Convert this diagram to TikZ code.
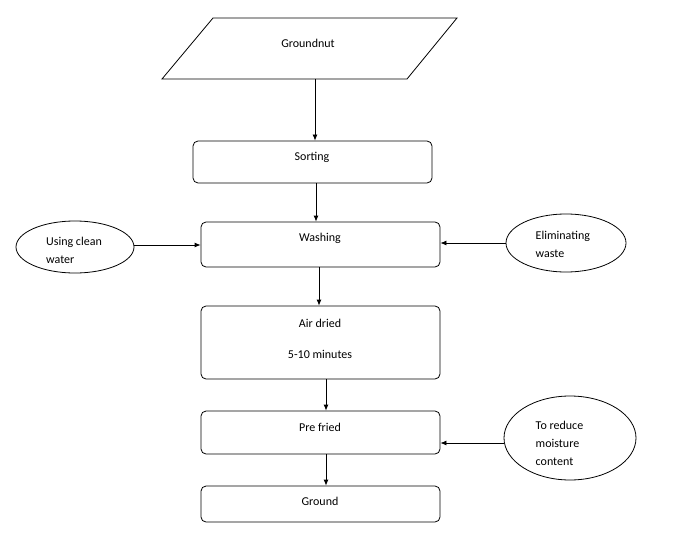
\documentclass[tikz,border=0pt]{standalone}
\usepackage{fontspec}
\setmainfont{Carlito}
\usetikzlibrary{shapes.geometric,arrows.meta,positioning,calc}
\begin{document}
\begin{tikzpicture}[x=1pt,y=-1pt,font=\fontsize{12}{18}\selectfont,line width=0.8pt,
  box/.style={draw,rounded corners=5pt,inner sep=0pt},
  oval/.style={draw,ellipse,inner sep=0pt},
  arr/.style={-{Latex[length=6pt,width=5pt]}}]
  \useasboundingbox (0,0) rectangle (676,548);

  % input
  \draw (213,18) -- (457,18) -- (407,79) -- (162,79) -- cycle;
  \coordinate (gn) at (315,79);
  \node (gnt) at (308,43) {Groundnut};

  % process steps
  \node[box,minimum width=239,minimum height=42] (sort) at (312.5,162) {};
  \node (sortt) at (312,157) {Sorting};
  \node[box,minimum width=239,minimum height=45] (wash) at (320.5,244.5) {};
  \node (washt) at (320,238) {Washing};
  \node[box,minimum width=239,minimum height=73] (air) at (320.5,342.5) {};
  \node (airt) at (320,323) {Air dried};
  \node (airm) at (320,354) {5-10 minutes};
  \node[box,minimum width=239,minimum height=43] (fry) at (320.5,432.5) {};
  \node (fryt) at (320,427) {Pre fried};
  \node[box,minimum width=239,minimum height=36] (grd) at (320.5,504) {};
  \node (grdt) at (320,501) {Ground};

  % side notes
  \node[oval,minimum width=118,minimum height=52] (water) at (75,247) {};
  \begin{scope}
    \clip (0,225) rectangle (140,263);
    \node[align=left] (watert) at (74,250) {Using clean\\water};
  \end{scope}
  \node[oval,minimum width=120,minimum height=58] (waste) at (566,243) {};
  \node[align=left,anchor=west] (wastet) at (532,244) {Eliminating\\waste};
  \node[oval,minimum width=132,minimum height=84] (moist) at (570,438) {};
  \node[align=left,anchor=west] (moistt) at (532,443) {To reduce\\moisture\\content};

  % flow
  \draw[arr] (gn) -- (gn |- sort.north);
  \draw[arr] ([xshift=3.5]sort.south) -- ([xshift=3.5]sort.south |- wash.north);
  \draw[arr] ([xshift=-1.5]wash.south) -- ([xshift=-1.5]wash.south |- air.north);
  \draw[arr] ([xshift=5.5]air.south) -- ([xshift=5.5]air.south |- fry.north);
  \draw[arr] ([xshift=5.5]fry.south) -- ([xshift=5.5]fry.south |- grd.north);
  \draw[arr] ([yshift=2]water.east) -- ([yshift=2]water.east -| wash.west);
  \draw[arr] (waste.west) -- (waste.west -| wash.east);
  \draw[arr] ([yshift=-5]moist.west) -- ([yshift=-5]moist.west -| fry.east);
\end{tikzpicture}
\end{document}
